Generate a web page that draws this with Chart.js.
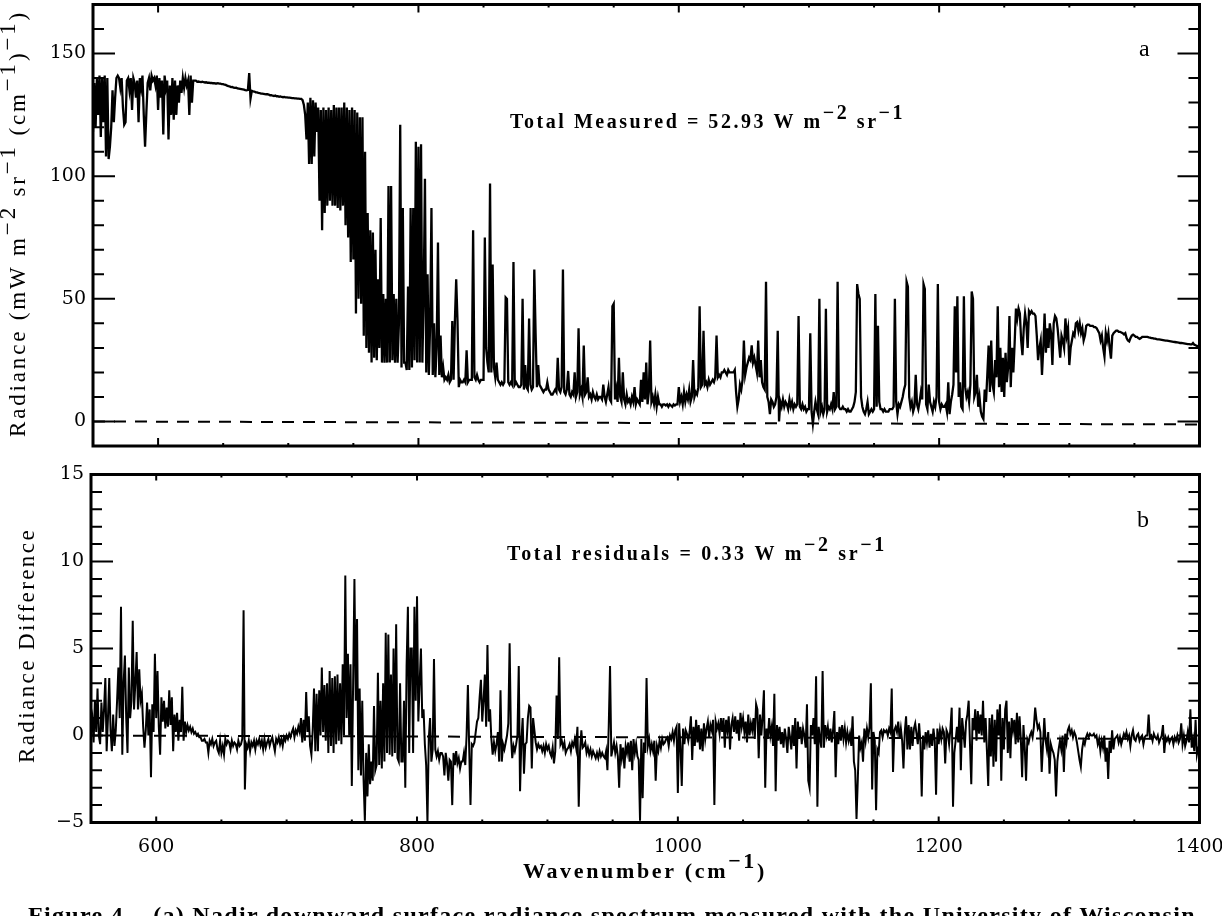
<!DOCTYPE html>
<html><head><meta charset="utf-8">
<style>
html,body{margin:0;padding:0;background:#fff;width:1222px;height:916px;overflow:hidden}
canvas{position:absolute;left:0}
#ca{top:0}#cb{top:460px}
#cap{position:absolute;left:28px;top:902px;white-space:pre;font:bold 24px "Liberation Serif",serif;letter-spacing:1.3px;color:#000}
</style>
<script src="https://cdn.jsdelivr.net/npm/chart.js@4"></script>
</head><body>
<canvas id="ca" width="1222" height="460"></canvas>
<canvas id="cb" width="1222" height="456"></canvas>
<div id="cap">Figure 4.   (a) Nadir downward surface radiance spectrum measured with the University of Wisconsin</div>
<script>
const wavenumbers=[
550,551,552,553,554,555,556,557,558,559,560,561,562,563,564,565,566,567,568,569,
570,571,572,573,574,575,576,577,578,579,580,581,582,583,584,585,586,587,588,589,
590,591,592,593,594,595,596,597,598,599,600,601,602,603,604,605,606,607,608,609,
610,611,612,613,614,615,616,617,618,619,620,621,622,623,624,625,626,627,628,629,
630,631,632,633,634,635,636,637,638,639,640,641,642,643,644,645,646,647,648,649,
650,651,652,653,654,655,656,657,658,659,660,661,662,663,664,665,666,667,668,669,
670,671,672,673,674,675,676,677,678,679,680,681,682,683,684,685,686,687,688,689,
690,691,692,693,694,695,696,697,698,699,700,701,702,703,704,705,706,707,708,709,
710,711,712,713,714,715,716,717,718,719,720,721,722,723,724,725,726,727,728,729,
730,731,732,733,734,735,736,737,738,739,740,741,742,743,744,745,746,747,748,749,
750,751,752,753,754,755,756,757,758,759,760,761,762,763,764,765,766,767,768,769,
770,771,772,773,774,775,776,777,778,779,780,781,782,783,784,785,786,787,788,789,
790,791,792,793,794,795,796,797,798,799,800,801,802,803,804,805,806,807,808,809,
810,811,812,813,814,815,816,817,818,819,820,821,822,823,824,825,826,827,828,829,
830,831,832,833,834,835,836,837,838,839,840,841,842,843,844,845,846,847,848,849,
850,851,852,853,854,855,856,857,858,859,860,861,862,863,864,865,866,867,868,869,
870,871,872,873,874,875,876,877,878,879,880,881,882,883,884,885,886,887,888,889,
890,891,892,893,894,895,896,897,898,899,900,901,902,903,904,905,906,907,908,909,
910,911,912,913,914,915,916,917,918,919,920,921,922,923,924,925,926,927,928,929,
930,931,932,933,934,935,936,937,938,939,940,941,942,943,944,945,946,947,948,949,
950,951,952,953,954,955,956,957,958,959,960,961,962,963,964,965,966,967,968,969,
970,971,972,973,974,975,976,977,978,979,980,981,982,983,984,985,986,987,988,989,
990,991,992,993,994,995,996,997,998,999,1000,1001,1002,1003,1004,1005,1006,1007,1008,1009,
1010,1011,1012,1013,1014,1015,1016,1017,1018,1019,1020,1021,1022,1023,1024,1025,1026,1027,1028,1029,
1030,1031,1032,1033,1034,1035,1036,1037,1038,1039,1040,1041,1042,1043,1044,1045,1046,1047,1048,1049,
1050,1051,1052,1053,1054,1055,1056,1057,1058,1059,1060,1061,1062,1063,1064,1065,1066,1067,1068,1069,
1070,1071,1072,1073,1074,1075,1076,1077,1078,1079,1080,1081,1082,1083,1084,1085,1086,1087,1088,1089,
1090,1091,1092,1093,1094,1095,1096,1097,1098,1099,1100,1101,1102,1103,1104,1105,1106,1107,1108,1109,
1110,1111,1112,1113,1114,1115,1116,1117,1118,1119,1120,1121,1122,1123,1124,1125,1126,1127,1128,1129,
1130,1131,1132,1133,1134,1135,1136,1137,1138,1139,1140,1141,1142,1143,1144,1145,1146,1147,1148,1149,
1150,1151,1152,1153,1154,1155,1156,1157,1158,1159,1160,1161,1162,1163,1164,1165,1166,1167,1168,1169,
1170,1171,1172,1173,1174,1175,1176,1177,1178,1179,1180,1181,1182,1183,1184,1185,1186,1187,1188,1189,
1190,1191,1192,1193,1194,1195,1196,1197,1198,1199,1200,1201,1202,1203,1204,1205,1206,1207,1208,1209,
1210,1211,1212,1213,1214,1215,1216,1217,1218,1219,1220,1221,1222,1223,1224,1225,1226,1227,1228,1229,
1230,1231,1232,1233,1234,1235,1236,1237,1238,1239,1240,1241,1242,1243,1244,1245,1246,1247,1248,1249,
1250,1251,1252,1253,1254,1255,1256,1257,1258,1259,1260,1261,1262,1263,1264,1265,1266,1267,1268,1269,
1270,1271,1272,1273,1274,1275,1276,1277,1278,1279,1280,1281,1282,1283,1284,1285,1286,1287,1288,1289,
1290,1291,1292,1293,1294,1295,1296,1297,1298,1299,1300,1301,1302,1303,1304,1305,1306,1307,1308,1309,
1310,1311,1312,1313,1314,1315,1316,1317,1318,1319,1320,1321,1322,1323,1324,1325,1326,1327,1328,1329,
1330,1331,1332,1333,1334,1335,1336,1337,1338,1339,1340,1341,1342,1343,1344,1345,1346,1347,1348,1349,
1350,1351,1352,1353,1354,1355,1356,1357,1358,1359,1360,1361,1362,1363,1364,1365,1366,1367,1368,1369,
1370,1371,1372,1373,1374,1375,1376,1377,1378,1379,1380,1381,1382,1383,1384,1385,1386,1387,1388,1389,
1390,1391,1392,1393,1394,1395,1396,1397,1398,1399,1400];

const radianceMeasured=[
118,138,120,140,125,141,116,140,122,141,
108,140,107,112,120,135,122,132,140,141,
140,136,140,128,121,122,139,140,135,140,
127,140,138,132,139,122,140,136,141,125,
112,126,138,140,135,141,139,140,137,141,
127,140,132,139,117,141,136,139,115,137,
125,140,123,139,125,137,130,139,134,140,
136,140,137,139,125,141,130,139,139,139,
138.5,138.6,138.5,138.4,138.5,138.3,138.2,138.3,138.1,138.1,
138,138,137.9,137.9,137.8,137.8,137.9,137.7,137.7,137.5,
137.5,137.3,137.2,136.9,136.7,136.6,136.3,136.4,136.1,136,
136.1,135.8,135.7,135.6,135.5,135.4,135.3,135.1,135,135.2,
142,131.6,134.8,134.6,134.5,134.2,134.2,134,133.9,133.7,
133.7,133.6,133.5,133.4,133.4,133.3,133,133,132.8,132.7,
132.9,132.6,132.6,132.4,132.5,132.3,132.2,132.3,132.1,132.1,
132,132,131.9,131.8,131.8,131.7,131.7,131.6,131.6,131.5,
131.5,131,129,125,115,130,105,132,105,131,
108,130,118,128,90,127,78,128,85,127,
88,128,90,127,88,129,88,128,87,128,
86,128,88,130,80,128,75,127,65,128,
66,127,44,126,50,124,48,124,35,110,
30,85,28,78,24,77,26,70,25,58,
30,83,24,52,24,50,24,96,24,96,
25,52,24,50,24,40,121,22,87,24,
24,21,55,21,87,22,87,25,114,24,
112,24,113,24,50,99,20,60,19,40,
87,19,40,18,30,73,19,35,18,22,
17,18,17,19,16,17,41,17,41,58,
41,14,17,16,16,17,16,29,16,17,
17,17,78,18,17,19,17,16,17,17,
17,75,30,24,20,97,20,64,22,18,
24,17,16,15,16,15,16,50.6,50,16,
15,16,15,65,15,16,15,14,14,15,
50,13,23,14,13,42,15,13,14,62,
36,14,23,15,14,13,12,13,13,16,
13,12,11,11,12,13,12,26,13,12,
14,62,12,11,13,20.6,11,10,12,11,
20,10,12,38,11,13,10,31,11,12,
18,10,11,9,12,10,9,11,9,10,
10,9,15,10,8,11,14,9,8,47,
48,9,13,8,26,10,8,20,9,7,
11,8,9,7,10,8,14,7,9,8,
7,17,8,20,9,24,7,12,33,8,
10,7,11,6,10,7,7,6,7,7,
6.5,7,6,7,6.5,6,7,6.5,7,7,
14,8,10,7,12,8,11,9,13,8,
10,25,10,12,11,14,47,14,15,37,
15,16,14,17,15,16,17,16,18,35,
18,19,18,20,20,21,20,19,21,20,
20,20,20,21,12,6,9,15,13,17,
33,19,22,24,26,25,31,24,26,23,
20,33,18,25,16,14,13,57,10,8,
3,9,8,6,7,10,37,0,8,6,
9,6,8,7,5,9,6,8,5,7,
6,7,43,6,5,7,5,6,4,5,
5,36,4,-1,4,8,5,3,50,4,
6,3,5,46,4,6,5,7,5,12,
5,6,57,6,5,5,6,5,5,4,
5,4,4,5,6,8,12,56,52,50,
10,6,4,3,5,8,3,4,5,4,
5,52,6,39,8,5,5,4,5,4,
4,4,5,5,5,6,50,8,3,7,
6,8,10,13,15,57,55,10,6,8,
4,6,19,7,5,8,12,9,56,54,
7,5,15,8,6,4,8,6,10,56,
8,5,7,6,6,7,4,16,3,8,
11,15,47,20,51,10,16,6,5,51,
14,10,12,8,15,53,50,10,12,19,
6,10,4,2,1,13,8,19,31,12,
33,15,12,25,18,47,14,30,12,26,
10,28,16,22,43,14,30,20,32,46,
42,46,44,33,27,38,44,40,30,45,
44,45,44,44,43,35,25,30,33,19,
30,44,28,38,30,40,36,23,40,43,
42,38,32,26,35,33,30,42,35,38,
23,30,33,36,35,40,40.5,37,40,36,
38,33,35,39,39.5,39.5,39,39,39,38.5,
38.5,38,37,36,33,35,30,26.5,36,33,
36,30,25.6,35,36,36.5,37,37,36.5,36.5,
36.3,36,35.5,36,34,33,32.6,34,35,35.4,
35,34.5,34.5,34,33.7,34,34.5,34.5,34.5,34.5,
34.5,34.3,34.2,34,34,33.8,33.8,33.6,33.5,33.5,
33.4,33.3,33.2,33.1,33,33,32.9,32.8,32.7,32.6,
32.5,32.4,32.3,32.2,32.1,32,32,31.9,31.8,31.7,
31.6,31.5,31.5,31.4,31.4,32,31.3,31.1,30.8,30.6,
30.3];

const radianceDifference=[
0.5,1,-0.4,2,0.2,2.7,0,-0.5,1.9,0.2,
1.5,3.3,-0.9,1,3.3,0.3,-0.9,1.2,-0.6,0.3,
2,3.9,1,7.4,-1.1,3,4.6,1,-1,3.9,
1,2,6.6,1.5,3,4.8,1.5,3.8,2,2.4,
0.5,-0.7,0.3,1.9,0,1.5,-2.4,1.8,0.2,4.7,
1,3.7,0.5,-1.1,2.2,0.8,2,0.4,1.6,0.5,
2.6,0.6,2.2,-0.9,1.2,0.2,1.3,-0.3,0.9,0.2,
2.8,-0.3,0.8,0.2,0.6,0.3,0.5,0.2,0.4,0.1,
0.2,0,0.1,-0.1,-0.1,-0.3,-0.3,-0.2,-0.4,-0.4,
-1,-0.3,-0.5,-0.2,-0.6,-0.4,-0.3,-0.8,-1,-0.3,
-1,-0.6,-1.1,-0.2,-0.5,-0.3,-0.4,-0.8,-0.3,-0.6,
-0.4,-0.5,-0.8,-0.3,-0.6,-0.5,-0.2,7.2,-3.1,-0.5,
-0.7,-0.3,-0.9,-0.4,-0.6,-0.3,-0.8,-0.3,-0.5,-0.2,
-0.6,-0.3,-0.8,-0.2,-0.7,-0.4,-0.2,-0.6,-0.3,-0.1,
-0.5,-0.9,-0.2,-0.4,-0.1,-0.5,-0.2,-0.6,-0.1,-0.3,
0,-0.2,0.1,-0.1,0.2,0.4,-0.1,0.3,0.1,0.5,
0.2,1,-0.4,0.9,-0.3,2.5,0.2,1.1,-0.6,-1.1,
0.3,2.7,-0.9,2.4,-0.9,2.6,0,3.9,0.2,2.9,
-0.3,3,-1,3.7,-0.6,3.3,-1,3.4,-0.5,3.5,
-0.3,3,-0.5,4.1,0,9.2,1,4.7,0,4.1,
-2.9,3,9,2,6.7,-2,2.7,-2.3,2,-2.5,
-4.9,-1,-3.5,-0.5,-2.8,-1.5,-2.6,1.7,-2,-1.7,
3.6,-1.7,2,-1.9,3,-1.5,5.9,-1,5.8,-1.1,
3.5,-1.2,5,-1,6.4,-1.3,-1.5,3,-1.5,-1.5,
2,-3,4,7.4,-1,5,5,-1,7.4,2,
8,0.8,3,5,1,1.5,-0.5,-1.7,-5,-0.2,
1,-1.5,-0.8,4.4,-0.8,-1.2,-0.9,-1.4,-1,-1,
-1.2,-2.3,-1,-1.6,-2.6,-1.4,-1.5,-4,-1,-1.7,
-0.9,-1.6,-1.3,-1.9,-1.5,-1.5,-1,-1.7,0,2.9,
-0.7,-4,-0.5,-0.6,-0.4,0.2,0.8,1,2.2,3.2,
0.8,2,3.5,0.5,5.2,0.8,1.5,-0.2,-1.1,-0.4,
-0.9,-0.5,0.2,-1.5,2.6,-1.5,-0.5,-0.8,-0.4,0,
0.7,5.3,0,-1.3,-0.6,-0.9,-0.5,0,4,-3.2,
-0.3,1,-2.2,-0.5,-0.4,1,1.7,1.6,-1.9,1,
0.3,-0.4,-0.8,-0.5,-0.7,-0.6,-0.9,-0.6,-1,-0.5,
-0.8,-0.6,-1,-1.2,-0.7,-1.6,-0.9,2.3,-0.2,4.5,
-0.5,-0.3,-0.7,-0.4,-1,-0.8,-0.7,-0.5,-0.9,-0.4,
-0.6,-0.2,-0.7,0.5,-4.1,-0.9,0.3,-0.7,-0.6,-0.4,
-1,-0.7,-1.1,-0.8,-1.2,-0.9,-1.1,-1.3,-1,-1.3,
-0.9,-1.2,-1,-1.2,-1.3,-0.9,-2,0.5,4,-1.2,
-0.8,-0.4,-1,-0.6,-1.2,-3,-0.5,-1.3,-0.7,-1.9,
-0.6,-1,-0.4,-1.5,-0.3,-2,-0.2,-1,-0.5,-1.2,
-1.4,-4.9,-0.2,-3.6,-0.4,-1,3.3,-0.6,-0.2,-0.9,
-0.5,-0.9,-0.3,-2.6,-0.6,-0.9,-0.3,-0.7,-0.2,-0.5,
-0.4,-0.2,-0.1,-0.6,0,-0.2,0.2,-0.3,0.3,0.5,
-3.3,0.7,-0.6,-2.9,0.4,-0.5,0.3,0.1,-0.3,0.2,
1.1,-1.4,0.5,-0.6,0.9,-0.4,0.6,-0.8,0.4,-0.9,
0.7,-0.2,0.4,0.8,-0.1,0.6,0.3,0.9,-4,0.8,
0.4,0.7,0.1,1,0.2,1,-0.7,0.9,0.3,1.1,
-0.8,0.6,1,0.2,1.1,0.1,0.9,-0.3,1.3,0.5,
1,0.2,0.8,-0.4,1.2,0,0.7,0.3,1,-0.2,
1.8,1.5,-1.3,1.2,0,1.1,2.6,-3,0.4,-0.2,
1,0,0.5,-0.6,2.4,-3.2,0.6,-0.3,0.5,-0.5,
0.2,-0.7,0.4,-0.2,-1,0.5,-0.1,-0.8,0.6,-0.6,
1,-1.9,0.8,-0.2,0.5,-0.5,0.4,0,-0.7,1.8,
-2.6,-3,0.6,0,1,-0.5,3.4,-4.1,0.5,-0.2,
-0.7,3.7,-0.7,0.6,0,0.5,-0.3,0.4,-0.4,0.3,
1.4,-2.4,0.2,-0.5,0.5,-0.3,0.6,-0.2,0.4,-0.4,
0.2,-0.3,0.1,-0.6,1.1,-1.5,-2,-4.8,-2.5,0,
-0.7,-0.4,-1.5,0.4,-0.3,0.4,-0.1,0.5,3,-3.1,
0.2,-0.3,-4.3,-0.8,-1,0.2,0.3,-0.1,0.3,0.2,
0.3,0,0.4,0.2,2.7,-2.1,0.3,0.5,0.2,0.8,
-0.2,0.4,-0.3,-1.9,0.2,1.1,-0.8,0.6,-0.8,0.5,
-0.6,0.4,0.7,0.1,-0.5,0.7,-0.4,-3.5,0,-0.8,
0.2,-0.4,0.3,-0.7,0.1,-0.6,0.4,-0.3,-3.4,0.4,
-0.5,0.3,-0.2,0.4,0.2,-1.6,0.3,0.1,-0.5,0.4,
1.6,-4.1,-1,-0.3,0.5,-0.4,1.6,-2,1,0.2,
-0.7,0.8,1.2,2,-0.5,-2.8,1,0.3,1.5,-0.3,
1.4,0.1,1.2,0,2,-0.4,1,-0.9,-2.9,1,
-1.2,1.2,-1.8,0.9,-1.5,1.5,0,1.8,-2.6,1,
-0.8,1.5,2,-1,0.8,-1.3,1,0.3,0.9,-0.5,
1.3,-0.4,1.1,-0.2,-2.4,0.6,-0.7,-2.6,-0.2,-0.4,
0,0.2,-0.1,0.5,1.6,0.9,0.4,0.6,0.2,-2.1,
-0.5,1,-0.3,-0.8,0.2,-2.2,-0.5,-0.8,-1,-1.4,
-3.5,-1.5,-0.8,-0.3,-0.8,0,-2.1,0.1,-0.4,0.3,
0.5,0.1,0.3,-0.1,0.2,0,-0.4,-0.9,-1.4,-1.8,
-0.8,-0.3,-0.5,-0.1,0.1,-0.1,0.1,0,0,0.1,
-0.1,0,-0.5,-0.2,-0.9,-0.3,-0.7,0,-1.5,-0.7,
-2.5,-0.3,-1,0.3,-0.8,-0.2,-0.1,0,-0.4,-0.1,
-0.5,-0.2,0.1,-0.1,0.2,-0.2,0,-0.6,0,0.3,
-0.2,-0.3,0,0.1,-0.3,-0.1,0,-0.5,-0.1,0,
0,1.2,-0.1,0,-0.3,0.1,-0.1,-0.2,0,-0.4,
-0.2,0,0.6,-1,-0.1,-0.3,-0.1,-0.4,-0.2,-0.1,
-0.5,-0.1,-0.3,0,-0.4,-0.2,0.7,-0.5,0,-0.6,
-0.3,0.2,-0.4,1.5,-0.7,-0.2,-0.9,0.9,-1.1,-0.7,
-0.6];

const zeroWavenumbers=[550,1400];
const zeroRadiance=[0,-1.2];
const zeroDifference=[0,-0.2];
const bottomTickLabels=[600,800,1000,1200,1400];

const serif='"DejaVu Serif",serif';
const liberation='"Liberation Serif",serif';
function toPoints(xs,ys){return xs.map((x,i)=>({x,y:ys[i]}));}

const figurePlugin={
  id:'figure',
  afterDatasetsDraw(chart,args,opts){
    const c=chart.ctx,a=chart.chartArea,xs=chart.scales.x,ys=chart.scales.y;
    c.save();c.strokeStyle='#000';
    c.lineWidth=2;c.beginPath();
    xs.ticks.forEach(t=>{
      if(t.value<=550||t.value>=1400)return;
      const p=xs.getPixelForValue(t.value),len=t.value%200===0?opts.xMajor:opts.xMinor;
      c.moveTo(p,a.top);c.lineTo(p,a.top+len);c.moveTo(p,a.bottom);c.lineTo(p,a.bottom-len);
    });
    ys.ticks.forEach(t=>{
      if(t.value<=ys.min||t.value>=ys.max)return;
      const p=ys.getPixelForValue(t.value),len=t.value%opts.yMajorStep===0?opts.yMajor:opts.yMinor;
      c.moveTo(a.left,p);c.lineTo(a.left+len,p);c.moveTo(a.right,p);c.lineTo(a.right-len,p);
    });
    c.stroke();
    c.lineWidth=3;c.strokeRect(a.left,a.top,a.right-a.left,a.bottom-a.top);
    c.fillStyle='#000';c.textBaseline='alphabetic';
    opts.texts.forEach(t=>{
      c.save();c.translate(t.x,t.y);if(t.rot)c.rotate(t.rot);
      c.font=t.font;c.letterSpacing='0px';
      let natural=0,chars=0;
      t.runs.forEach(r=>{natural+=c.measureText(r[0]).width;chars+=r[0].length;});
      c.letterSpacing=(t.length?(t.length-natural)/chars:0)+'px';
      let pos=0;
      t.runs.forEach(r=>{c.fillText(r[0],pos,r[1]?-r[1]:0);pos+=c.measureText(r[0]).width;});
      c.restore();
    });
    c.restore();
  }
};

function makePanel(id,values,zero,lineWidth,yMin,yMax,yStep,labelStep,leftEdge,topEdge,bottomEdge,showX,pluginOpts){
  return new Chart(document.getElementById(id),{
    type:'scatter',
    data:{datasets:[
      {data:toPoints(zeroWavenumbers,zero),showLine:true,borderColor:'#000',borderWidth:2,borderDash:[12,9],pointRadius:0},
      {data:toPoints(wavenumbers,values),showLine:true,borderColor:'#000',borderWidth:lineWidth,pointRadius:0,tension:0}
    ]},
    plugins:[figurePlugin],
    options:{
      responsive:false,animation:false,devicePixelRatio:1,
      layout:{padding:{top:topEdge,right:1222-1199.5,left:0,bottom:0}},
      plugins:{legend:{display:false},tooltip:{enabled:false},figure:pluginOpts},
      scales:{
        x:{type:'linear',min:550,max:1400,
          border:{display:false},grid:{display:false,drawTicks:false},
          afterFit(s){s.height=bottomEdge;s.paddingLeft=0;s.paddingRight=0;},
          ticks:{stepSize:50,display:showX,autoSkip:false,maxRotation:0,padding:13,color:'#000',
            font:{family:serif,size:19},
            callback:v=>bottomTickLabels.includes(v)?String(v):''}},
        y:{type:'linear',min:yMin,max:yMax,
          border:{display:false},grid:{display:false,drawTicks:false},
          afterFit(s){s.width=leftEdge;s.paddingTop=0;s.paddingBottom=0;},
          ticks:{stepSize:yStep,autoSkip:false,padding:7,color:'#000',
            font:{family:serif,size:19},
            callback:v=>(v%labelStep===0&&v>=yMin+(yMin===-5?0:10))?String(v).replace('-','\u2212'):''}}
      }
    }
  });
}

makePanel('ca',radianceMeasured,zeroRadiance,2.3,-10,170,10,50,93,4.5,460-446,false,{
  xMajor:8,xMinor:3,yMajor:22,yMinor:11,yMajorStep:50,
  texts:[
    {x:510,y:128,length:395,font:'bold 20px '+liberation,runs:[['Total Measured = 52.93 W m'],['\u22122',9],[' sr'],['\u22121',9]]},
    {x:1139,y:56,font:'24px '+liberation,runs:[['a']]},
    {x:25,y:437,rot:-Math.PI/2,length:427,font:'23px '+liberation,runs:[['Radiance (mW m'],['\u22122',10],[' sr'],['\u22121',10],[' (cm'],['\u22121',10],[')'],['\u22121',10],[')']]}
  ]
});
makePanel('cb',radianceDifference,zeroDifference,2,-5,15,1,5,91,14.5,456-362.5,true,{
  xMajor:6,xMinor:3,yMajor:22,yMinor:11,yMajorStep:5,
  texts:[
    {x:507,y:100,length:380,font:'bold 20px '+liberation,runs:[['Total residuals = 0.33 W m'],['\u22122',9],[' sr'],['\u22121',9]]},
    {x:1137,y:67,font:'24px '+liberation,runs:[['b']]},
    {x:34,y:303,rot:-Math.PI/2,length:235,font:'23px '+liberation,runs:[['Radiance Difference']]},
    {x:523,y:418,length:244,font:'bold 22px '+liberation,runs:[['Wavenumber (cm'],['\u22121',10],[')']]}
  ]
});
</script>
</body></html>
